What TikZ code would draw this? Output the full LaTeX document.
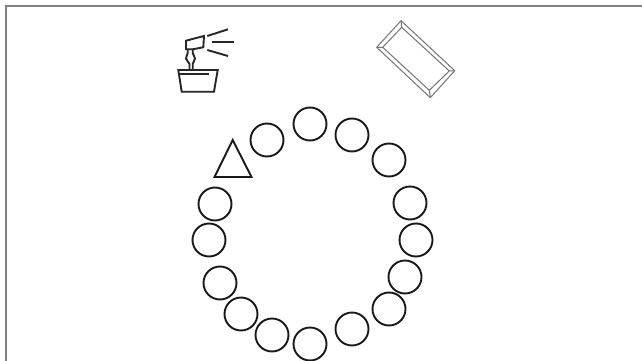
\documentclass[tikz,border=0pt]{standalone}
\usetikzlibrary{shapes.geometric}
\tikzset{
  seat/.style={circle,draw=black!90,line width=1.9pt,minimum size=33pt,inner sep=0pt},
  frameline/.style={draw=black!50,line width=2pt},
  icon/.style={draw=black!85,line width=1.9pt,line join=miter},
  traybox/.style={draw=black!55,line width=1pt,line join=round}
}
\begin{document}
\begin{tikzpicture}[x=1pt,y=-1pt]
\useasboundingbox (0,0) rectangle (642,361);
\fill[white] (0,0) rectangle (642,361);
\draw[frameline] (5.5,361) -- (5.5,6.5) -- (642,6.5);
\node[seat] (s1) at (267,140) {};
\node[seat] (s2) at (310,124) {};
\node[seat] (s3) at (352,135) {};
\node[seat] (s4) at (389,160) {};
\node[seat] (s5) at (410,203) {};
\node[seat] (s6) at (416,240) {};
\node[seat] (s7) at (405,277) {};
\node[seat] (s8) at (389,309) {};
\node[seat] (s9) at (352,329) {};
\node[seat] (s10) at (310,344) {};
\node[seat] (s11) at (272,335) {};
\node[seat] (s12) at (241,314) {};
\node[seat] (s13) at (220,283) {};
\node[seat] (s14) at (209,240) {};
\node[seat] (s15) at (215,204) {};
\draw[draw=black!90,line width=1.9pt,line join=miter] (232.7,140) -- (251.5,177) -- (214.5,177) -- cycle;
% tray
\draw[traybox] (376.7,47.3) -- (401,20.7) -- (454.7,70.7) -- (430.3,97.7) -- cycle;
\draw[traybox] (382.7,47.3) -- (401.7,27.3) -- (449.3,71) -- (429.3,90.3) -- cycle;
\draw[traybox] (376.7,47.3) -- (382.7,47.3) (401,20.7) -- (401.7,27.3) (454.7,70.7) -- (449.3,71) (430.3,97.7) -- (429.3,90.3);
% sprayer
\draw[icon] (178.3,70) -- (217.7,70) -- (214,91.7) -- (181.7,91.7) -- cycle;
\draw[icon] (178.3,74.3) -- (209.3,74.3);
\draw[icon] (186,49.3) -- (186,40.7) -- (204,36) -- (203.3,47.3) -- (192.5,49.3) -- cycle;
\draw[icon] (187.7,49.3) -- (187.7,53) .. controls (187.7,55) and (186,56) .. (186,58.5) .. controls (186,61) and (189.5,62) .. (189.5,64) -- (189.5,70);
\draw[icon] (192.7,49.3) -- (192.7,53) .. controls (192.7,55) and (195,56) .. (195,58.5) .. controls (195,61) and (192.7,62) .. (192.7,64) -- (192.7,70);
\draw[icon] (207.3,36) -- (228,29.3);
\draw[icon] (212,42.3) -- (234.3,42.3);
\draw[icon] (207.3,50) -- (228,56);
\end{tikzpicture}
\end{document}
